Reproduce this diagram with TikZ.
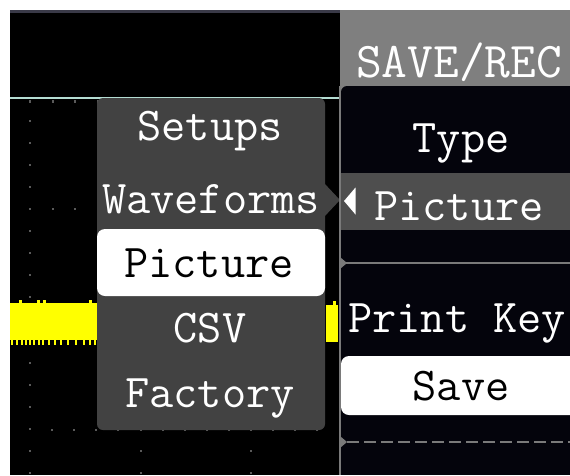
\documentclass[tikz,border=0pt]{standalone}
\definecolor{popgray}{HTML}{424242}
\definecolor{headgray}{HTML}{7F7F7F}
\definecolor{stripgray}{HTML}{4E4E4E}
\definecolor{paneldark}{HTML}{04040C}
\definecolor{linegray}{HTML}{7A7A7A}
\definecolor{dotgray}{HTML}{5A5A5A}
\definecolor{scrline}{HTML}{B4DCD2}
\definecolor{topline}{HTML}{3A3A48}
\definecolor{trace}{HTML}{FFFF00}
\tikzset{
  txt/.style={inner sep=0pt, anchor=base, text=white, font=\ttfamily\fontsize{47}{47}\selectfont},
  hdr/.style={txt, font=\ttfamily\fontsize{50}{50}\selectfont},
  seltxt/.style={txt, text=black},
  gdot/.style={fill=dotgray},
}
\begin{document}
\begin{tikzpicture}[x=1pt,y=-1pt]
\useasboundingbox (0,0) rectangle (570,475);
\begin{scope}
\clip (0,0) rectangle (570,475);
\fill[white] (0,0) rectangle (570,475);
\fill[black] (10,10) rectangle (570,475);
\fill[topline] (10,10) rectangle (340,13);
% screen top line
\fill[scrline] (10,97.3) rectangle (340,99.3);
% graticule ticks
\foreach \x in {30,52.5,75,97.5} \fill[gdot] (\x-1,100) rectangle (\x+1,103);
% graticule dots
\foreach \y in {121,143,165,187,209,231,253,275,297,363,385,407,429,451,473}
  \fill[gdot] (29,\y-1) rectangle (31,\y+1);
\foreach \x in {52.5,75} \fill[gdot] (\x-1,208) rectangle (\x+1,210);
\foreach \k in {1,...,13} \fill[gdot] ({30+22.1*\k-1},429) rectangle ({30+22.1*\k+1},431);
\foreach \x in {141,251} {\fill[gdot] (\x-1,450) rectangle (\x+1,452);
  \fill[gdot] (\x-1,472) rectangle (\x+1,474);}
% yellow trace left
\fill[trace] (10,303) rectangle (97,340);
\foreach \x in {19,37,43,89} \fill[trace] (\x,299.5) rectangle (\x+3,303.5);
\foreach \x in {11,16,21,25,29,33,38,42,48,54,60,67,75,83,89,94}
  \fill[trace] (\x,339) rectangle (\x+2,345);
% yellow trace right
\fill[trace] (326,305) rectangle (338,342);
\fill[trace] (332.5,300.5) rectangle (336,305.5);
% popup menu
\fill[popgray, rounded corners=6pt] (97,98) rectangle (325,430);
\fill[popgray] (324,183) -- (340,200) -- (324,217) -- cycle;
\fill[white, rounded corners=8pt] (97,229) rectangle (325,296);
% right panel
\fill[paneldark] (340,10) rectangle (570,475);
\fill[headgray] (340,10) rectangle (570,95);
\fill[paneldark, rounded corners=6pt] (341,86) rectangle (600,300);
\fill[stripgray] (341,173) rectangle (570,230);
\fill[paneldark] (341,230) rectangle (570,475);
\fill[linegray] (338.5,86) rectangle (340.5,475);
\fill[white] (344,201) -- (355.5,187.5) -- (355.5,214.5) -- cycle;
\draw[linegray, line width=1.6pt] (341,263) -- (570,263);
\fill[linegray] (340,257) -- (347,263) -- (340,269) -- cycle;
\fill[white, rounded corners=8pt] (341,356) rectangle (600,415);
\draw[linegray, line width=1.6pt, dash pattern=on 12pt off 5pt] (347,442) -- (570,442);
\fill[linegray] (340,436) -- (347,442) -- (340,448) -- cycle;
\end{scope}
% texts
\node[txt] (setups) at (210,140) {Setups};
\node[txt] (waveforms) at (211,213) {Waveforms};
\node[seltxt] (picsel) at (209,277) {Picture};
\node[txt] (csv) at (210,342) {CSV};
\node[txt] (factory) at (210,407) {Factory};
\node[hdr] (savrec) at (459,77) {SAVE/REC};
\node[txt] (type) at (461,152) {Type};
\node[txt] (pictype) at (459,220) {Picture};
\node[txt, anchor=base west] (printkey) at (348,332) {Print Key};
\node[seltxt] (save) at (461,400) {Save};
\end{tikzpicture}
\end{document}
